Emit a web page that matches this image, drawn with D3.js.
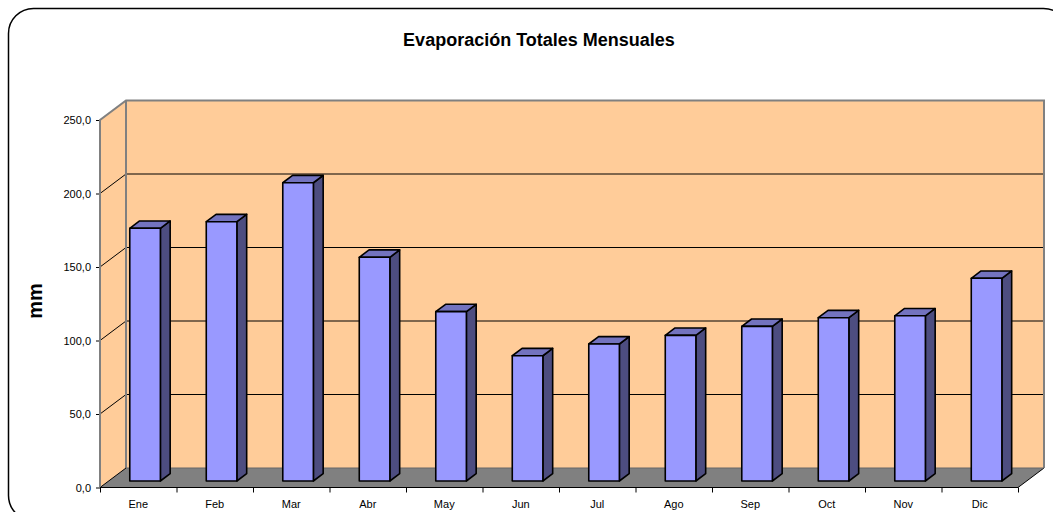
<!DOCTYPE html>
<meta charset="utf-8">
<style>
  body { margin: 0; background: #fff; }
  svg { display: block; font-family: "Liberation Sans", Arial, sans-serif; }
  .axis path { display: none; }
  .axis line { stroke: #000; }
  .axis text { font-size: 11px; fill: #000; }
</style>
<body>
<svg width="1053" height="512"></svg>
<script src="https://d3js.org/d3.v7.min.js"></script>
<script>
  // data
  var months = ["Ene", "Feb", "Mar", "Abr", "May", "Jun", "Jul", "Ago", "Sep", "Oct", "Nov", "Dic"];
  var evaporation = [171.9, 176.4, 202.9, 152.2, 115.2, 85.2, 93.2, 99.1, 105.2, 111.1, 112.4, 137.9];
  var yTicks = [0, 50, 100, 150, 200, 250];

  var svg = d3.select("svg");

  // oblique 3d box: front plane + depth offset
  var front = { left: 100, right: 1018, bottom: 487.5, top: 120 },
    depth = { dx: 26, dy: 19.5 },
    z0 = 0.333, z1 = 0.71; // bar depth range (fraction of box depth)

  var y = d3.scaleLinear().domain([0, 250]).range([front.bottom, front.top]);
  var x = d3.scaleBand().domain(months).range([front.left, front.right])
    .paddingInner(0.6).paddingOuter(0.3).align(0.46);
  var xCat = d3.scaleBand().domain(months).range([front.left, front.right]);
  var xEdge = d3.scaleLinear().domain([0, months.length]).range([front.left, front.right]);

  var fmt = d3.formatLocale({ decimal: ",", thousands: ".", grouping: [3], currency: ["", ""] }).format(".1f");

  // outer chart frame
  svg.append("rect")
    .attr("x", 8.5).attr("y", 8.5)
    .attr("width", 1060).attr("height", 512)
    .attr("rx", 25).attr("ry", 25)
    .attr("fill", "#fff").attr("stroke", "#000").attr("stroke-width", 1.5);

  // title
  svg.append("text")
    .attr("x", 539).attr("y", 46)
    .attr("text-anchor", "middle")
    .attr("font-weight", "bold").attr("font-size", "18px")
    .text("Evaporación Totales Mensuales");

  svg.append("text")
    .attr("transform", "translate(42,301) rotate(-90)")
    .attr("text-anchor", "middle")
    .attr("font-weight", "bold").attr("font-size", "20px")
    .text("mm");

  function pt(px, py, z) {
    return [px + z * depth.dx, py - z * depth.dy];
  }
  var line = d3.line();

  var g = svg.append("g");

  // back wall
  var bTop = pt(front.left, y(250), 1), bBot = pt(front.right, y(0), 1);
  g.append("rect")
    .attr("x", bTop[0]).attr("y", bTop[1])
    .attr("width", bBot[0] - bTop[0]).attr("height", bBot[1] - bTop[1])
    .attr("fill", "#FFCC99");

  // side wall
  g.append("path")
    .attr("d", line([pt(front.left, y(0), 0), pt(front.left, y(250), 0), pt(front.left, y(250), 1), pt(front.left, y(0), 1)]) + "Z")
    .attr("fill", "#FFCC99");

  // floor
  g.append("path")
    .attr("d", line([pt(front.left, y(0), 0), pt(front.right, y(0), 0), pt(front.right, y(0), 1), pt(front.left, y(0), 1)]) + "Z")
    .attr("fill", "#808080");
  g.append("path")
    .attr("d", line([pt(front.right, y(0), 0), pt(front.right, y(0), 1)]))
    .attr("stroke", "#000").attr("stroke-width", 1);

  // gridlines on side and back walls
  yTicks.slice(1, -1).forEach(function (v) {
    g.append("path")
      .attr("d", line([pt(front.left, y(v), 0), pt(front.left, y(v), 1), pt(front.right, y(v), 1)]))
      .attr("fill", "none").attr("stroke", "#000").attr("stroke-width", 1);
  });

  // wall edges
  g.append("path")
    .attr("d", line([pt(front.left, y(0), 0), pt(front.left, y(250), 0), pt(front.left, y(250), 1),
      pt(front.right, y(250), 1), pt(front.right, y(0), 1)]))
    .attr("fill", "none").attr("stroke", "#808080").attr("stroke-width", 2);
  g.append("path")
    .attr("d", line([pt(front.left, y(250), 1), pt(front.left, y(0), 1)]))
    .attr("stroke", "#808080").attr("stroke-width", 2);
  g.append("path")
    .attr("d", line([pt(front.left, y(0), 1), pt(front.right, y(0), 1)]))
    .attr("stroke", "#666").attr("stroke-width", 1);
  g.append("path")
    .attr("d", line([pt(front.left, y(0), 0), pt(front.left, y(0), 1)]))
    .attr("stroke", "#000").attr("stroke-width", 1);

  // bars
  var bars = g.selectAll(".bar").data(evaporation).enter().append("g").attr("class", "bar");
  var dz = z1 - z0;
  function face(d, i, which) {
    var xl = x(months[i]), xr = xl + x.bandwidth();
    var a = pt(xl, y(0), z0), b = pt(xr, y(0), z0), c = pt(xr, y(d), z0), e = pt(xl, y(d), z0);
    var ox = dz * depth.dx, oy = dz * depth.dy;
    if (which == "front") return line([a, b, c, e]) + "Z";
    if (which == "side") return line([b, [b[0] + ox, b[1] - oy], [c[0] + ox, c[1] - oy], c]) + "Z";
    return line([e, c, [c[0] + ox, c[1] - oy], [e[0] + ox, e[1] - oy]]) + "Z";
  }
  [["side", "#4D4D80"], ["top", "#7373BF"], ["front", "#9999FF"]].forEach(function (f) {
    bars.append("path")
      .attr("d", function (d, i) { return face(d, i, f[0]); })
      .attr("fill", f[1])
      .attr("stroke", "#000").attr("stroke-width", 1.6)
      .attr("stroke-linejoin", "round");
  });

  // value axis
  svg.append("g")
    .attr("class", "axis")
    .attr("transform", "translate(" + front.left + ",0)")
    .call(d3.axisLeft(y).tickValues(yTicks).tickFormat(fmt).tickSize(4).tickPadding(5));
  svg.append("path")
    .attr("d", line([[front.left, y(0)], [front.left, y(250)]]))
    .attr("stroke", "#808080").attr("stroke-width", 2);

  // category axis
  svg.append("g")
    .attr("class", "axis")
    .attr("transform", "translate(0," + front.bottom + ")")
    .call(d3.axisBottom(xEdge).tickValues(d3.range(months.length + 1)).tickFormat("").tickSize(5));
  svg.append("g")
    .attr("class", "axis")
    .attr("transform", "translate(0," + front.bottom + ")")
    .call(d3.axisBottom(xCat).tickSize(0).tickPadding(13));
  svg.append("path")
    .attr("d", line([[front.left, front.bottom], [front.right, front.bottom]]))
    .attr("stroke", "#000").attr("stroke-width", 1);
</script>
</body>
